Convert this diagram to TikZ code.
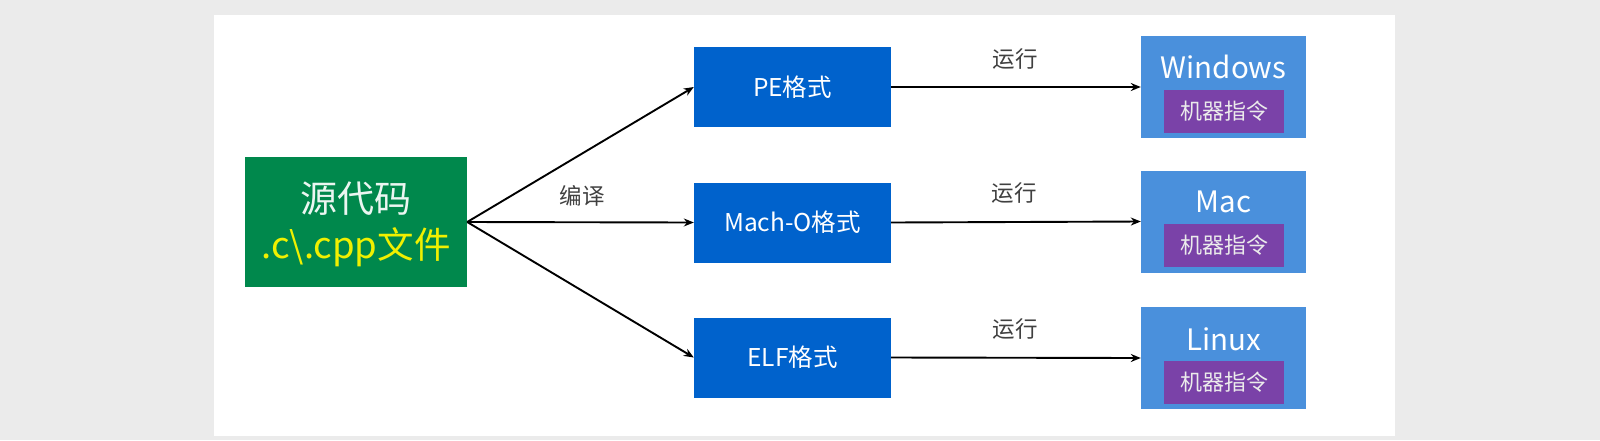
\documentclass[tikz,border=0pt]{standalone}
\usepackage{fontspec}
\setmainfont{Noto Sans CJK SC}
\usetikzlibrary{arrows.meta}
\definecolor{bggray}{RGB}{235,235,235}
\definecolor{srcgreen}{RGB}{0,136,76}
\definecolor{srcyellow}{RGB}{240,240,0}
\definecolor{fmtblue}{RGB}{0,98,204}
\definecolor{osblue}{RGB}{74,144,220}
\definecolor{cmdpurple}{RGB}{122,66,168}
\definecolor{labelgray}{RGB}{64,64,64}
\begin{document}
\begin{tikzpicture}[x=1pt,y=-1pt,
  srcbox/.style={fill=srcgreen, minimum width=222pt, minimum height=130pt, inner sep=0pt, align=center},
  fmtbox/.style={fill=fmtblue, text=white, minimum width=197pt, minimum height=80pt, inner sep=0pt, font=\fontsize{24.5}{27}\selectfont},
  osbox/.style={fill=osblue, minimum width=165pt, minimum height=102pt, inner sep=0pt},
  ostext/.style={text=white, inner sep=0pt, font=\fontsize{29.5}{32}\selectfont},
  cmdbox/.style={fill=cmdpurple, text=white!92!black, minimum width=120pt, minimum height=43pt, inner sep=0pt, font=\fontsize{22}{24}\selectfont},
  edgelabel/.style={text=labelgray, inner sep=0pt, font=\fontsize{22.5}{24}\selectfont},
  arrowline/.style={draw=black, line width=1.9pt, -{Stealth[length=10pt,width=8pt]}}
]
\useasboundingbox (0,0) rectangle (1600,440);
\fill[bggray] (0,0) rectangle (1600,440);
\fill[white] (214,15) rectangle (1395,436);

\node[srcbox] (src) at (356,222) {};
\node[text=white!92!srcgreen, inner sep=0pt, font=\fontsize{37}{40}\selectfont] (srcA) at (356,199) {源代码};
\node[text=srcyellow, inner sep=0pt, font=\fontsize{36.5}{40}\selectfont] (srcB) at (356,247) {.c\textbackslash.cpp文件};

\node[fmtbox] (pe) at (792.5,87) {PE格式};
\node[fmtbox] (mach) at (792.5,222.5) {Mach-O格式};
\node[fmtbox] (elf) at (792.5,357.5) {ELF格式};

\node[osbox] (win) at (1223.5,87) {};
\node[ostext] (winT) at (1223.5,67) {Windows};
\node[cmdbox] (winC) at (1224,111.5) {机器指令};

\node[osbox] (mac) at (1223.5,221.5) {};
\node[ostext] (macT) at (1223.5,202) {Mac};
\node[cmdbox] (macC) at (1224,245.5) {机器指令};

\node[osbox] (lin) at (1223.5,358) {};
\node[ostext] (linT) at (1223.5,339) {Linux};
\node[cmdbox] (linC) at (1224,382) {机器指令};

\draw[arrowline] (src.east) -- (pe.west);
\draw[arrowline] (src.east) -- (mach.west);
\draw[arrowline] (src.east) -- (elf.west);
\node[edgelabel] (compile) at (582,196) {编译};

\draw[arrowline] (pe.east) -- (win.west);
\draw[arrowline] (mach.east) -- (mac.west);
\draw[arrowline] (elf.east) -- (lin.west);
\node[edgelabel] (run1) at (1015,59) {运行};
\node[edgelabel] (run2) at (1014,193) {运行};
\node[edgelabel] (run3) at (1015,329) {运行};
\end{tikzpicture}
\end{document}
